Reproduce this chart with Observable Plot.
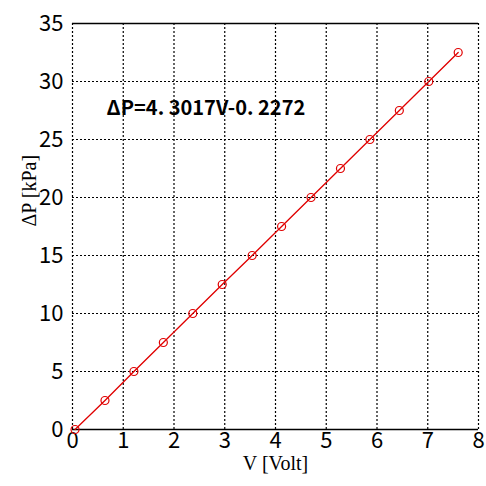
<!DOCTYPE html>
<html>
<head>
<meta charset="utf-8">
<script src="https://cdn.jsdelivr.net/npm/d3@7"></script>
<script src="https://cdn.jsdelivr.net/npm/@observablehq/plot@0.6"></script>
<style>
  html, body { margin: 0; padding: 0; background: #fff; }
</style>
</head>
<body>
<div id="chart"></div>
<script>
const voltage = [0.05, 0.64, 1.21, 1.79, 2.37, 2.95, 3.54, 4.12, 4.70, 5.28, 5.86, 6.44, 7.02, 7.60];
const pressure = [0, 2.5, 5, 7.5, 10, 12.5, 15, 17.5, 20, 22.5, 25, 27.5, 30, 32.5];
const xTicks = [0, 1, 2, 3, 4, 5, 6, 7, 8];
const yTicks = [0, 5, 10, 15, 20, 25, 30, 35];
const equation = "ΔP=4. 3017V-0. 2272";

const data = voltage.map((v, i) => ({v, p: pressure[i]}));
const tickFont = "'Noto Sans CJK JP', sans-serif";
const serif = "'Liberation Serif', 'DejaVu Serif', serif";

const chart = Plot.plot({
  width: 486,
  height: 486,
  marginLeft: 72,
  marginRight: 8,
  marginTop: 23,
  marginBottom: 57,
  style: {background: "#fff", color: "#000"},
  x: {domain: [0, 8], ticks: xTicks},
  y: {domain: [0, 35], ticks: yTicks},
  marks: [
    Plot.gridX(xTicks, {stroke: "#000", strokeOpacity: 1, strokeDasharray: "2,2", strokeWidth: 1.2}),
    Plot.gridY(yTicks, {stroke: "#000", strokeOpacity: 1, strokeDasharray: "2,2", strokeWidth: 1.2}),
    Plot.ruleY([0, 35], {stroke: "#000", strokeWidth: 1.5}),
    Plot.axisX(xTicks, {tickSize: 0, tickPadding: 3, fontSize: 22, fontFamily: tickFont, label: null}),
    Plot.axisY(yTicks, {tickSize: 0, tickPadding: 9, fontSize: 22, fontFamily: tickFont, label: null}),
    Plot.line(data, {x: "v", y: "p", stroke: "#e00000", strokeWidth: 1.3}),
    Plot.dot(data, {x: "v", y: "p", r: 4, stroke: "#e00000", strokeWidth: 1.2, fill: "none"}),
    Plot.text([equation], {frameAnchor: "top-left", dx: 34, dy: 77, text: d => d, fontSize: 20, fontWeight: "bold", fontFamily: tickFont, textAnchor: "start", fill: "#000"}),
    Plot.text(["V [Volt]"], {frameAnchor: "bottom", dy: 40, text: d => d, fontSize: 20, fontFamily: serif, fill: "#000"}),
    Plot.text(["ΔP [kPa]"], {frameAnchor: "left", dx: -43, rotate: -90, text: d => d, fontSize: 20, fontFamily: serif, fill: "#000"})
  ]
});
document.getElementById("chart").appendChild(chart);
</script>
</body>
</html>
